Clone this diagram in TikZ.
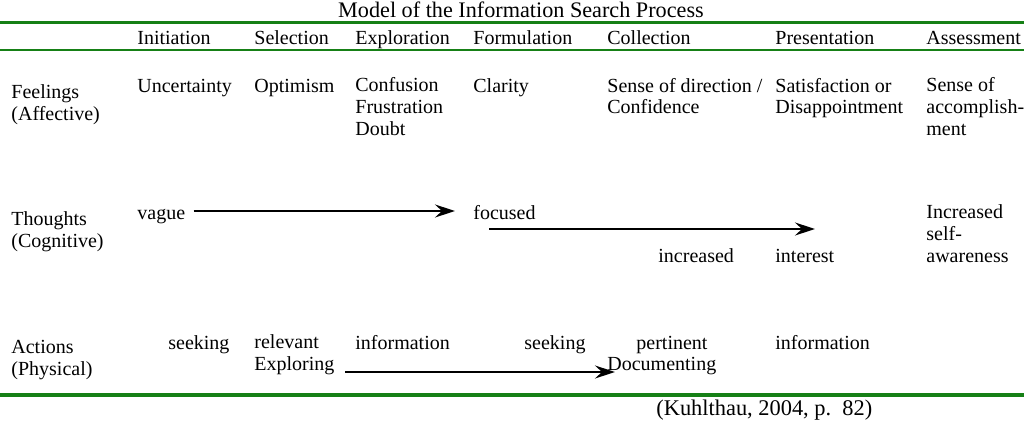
\documentclass[tikz,border=0pt]{standalone}
\usepackage{fontspec}
\setmainfont{Liberation Serif}
\usetikzlibrary{arrows.meta}
\definecolor{rulegreen}{RGB}{22,128,22}
\begin{document}
\begin{tikzpicture}[x=0.5pt,y=-0.5pt,>={Stealth[length=10pt,width=6.5pt,inset=3.5pt]},
  txt/.style={anchor=base west,inner sep=0pt,align=left,font=\fontsize{10}{10.8}\selectfont},
  rule/.style={rulegreen,line width=1.6pt}]
\useasboundingbox (0,0) rectangle (1024,423);
% rules
\draw[rule] (0,22.5) -- (1024,22.5);
\draw[rulegreen,line width=0.9pt] (0,50) -- (1024,50);
\draw[rule] (0,395) -- (1024,395);
\node[anchor=base,inner sep=0pt,font=\fontsize{11.1}{12}\selectfont] (title) at (521,18) {Model of the Information Search Process};
% stages
\node[txt] (init) at (137,44) {Initiation};
\node[txt] (sel) at (254,44) {Selection};
\node[txt] (expl) at (355,44) {Exploration};
\node[txt] (form) at (473,44) {Formulation};
\node[txt] (coll) at (607,44) {Collection};
\node[txt] (pres) at (775,44) {Presentation};
\node[txt] (asse) at (926,44) {Assessment};
% row labels (placed by their last line)
\node[txt] (feel) at (11,120) {Feelings\\(Affective)};
\node[txt] (thou) at (11,247) {Thoughts\\(Cognitive)};
\node[txt] (acti) at (11,375) {Actions\\(Physical)};
% feelings
\node[txt] (f1) at (137,92) {Uncertainty};
\node[txt] (f2) at (254,92) {Optimism};
\node[txt] (f3) at (355,135) {Confusion\\Frustration\\Doubt};
\node[txt] (f4) at (473,92) {Clarity};
\node[txt] (f5) at (607,113.6) {Sense of direction /\\Confidence};
\node[txt] (f6) at (775,113.6) {Satisfaction or\\Disappointment};
\node[txt] (f7) at (926,135) {Sense of\\accomplish-\\ment};
% thoughts
\node[txt] (vague) at (137,219) {vague};
\node[txt] (focused) at (473,219) {focused};
\node[txt] (incr) at (658,262) {increased};
\node[txt] (inter) at (775,262) {interest};
\node[txt] (t7) at (926,262) {Increased\\self-\\awareness};
\draw[->,line width=1pt] ([xshift=4pt,yshift=4pt]vague.base east) -- ([xshift=-9pt,yshift=4pt]focused.base west);
\coordinate (cogA) at (489,229);
\coordinate (cogB) at (815,229);
\draw[->,line width=1pt] (cogA) -- (cogB);
% actions
\node[txt] (a1) at (168,349) {seeking};
\node[txt] (a2) at (254,370) {relevant\\Exploring};
\node[txt] (a3) at (355,349) {information};
\node[txt] (a4) at (524,349) {seeking};
\node[txt] (a5) at (636,349) {pertinent};
\node[txt] (a6) at (607,370) {Documenting};
\node[txt] (a7) at (775,349) {information};
\coordinate (actA) at (345,372);
\draw[->,line width=1pt] (actA) -- ([xshift=4pt,yshift=-1pt]a6.base west);
% source
\node[txt,font=\fontsize{11.2}{12}\selectfont] (src) at (656,415) {(Kuhlthau, 2004, p.\ \ 82)};
\end{tikzpicture}
\end{document}
